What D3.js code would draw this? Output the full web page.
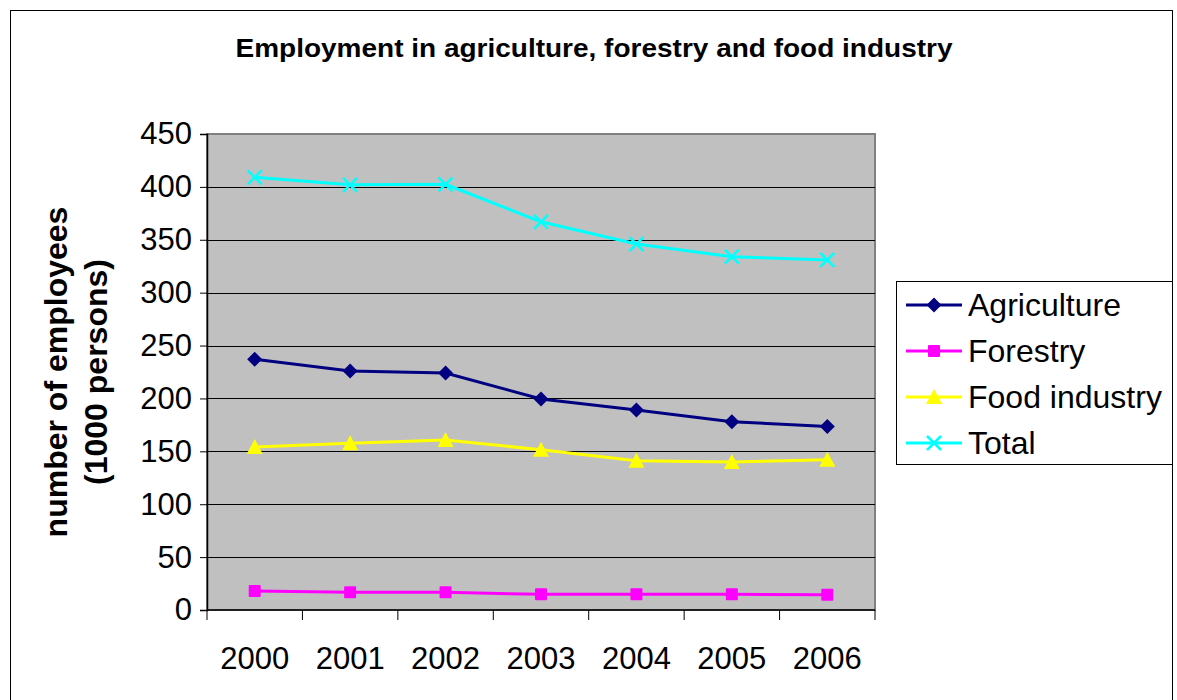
<!DOCTYPE html>
<html>
<head>
<meta charset="utf-8">
<script src="https://cdn.jsdelivr.net/npm/d3@7"></script>
<style>
  body { margin: 0; background: #fff; }
  text { font-family: "Liberation Sans", Arial, sans-serif; }
</style>
</head>
<body>
<div id="chart"></div>
<script>
const years = ["2000", "2001", "2002", "2003", "2004", "2005", "2006"];
const agriculture = [237, 226, 224, 199.5, 189, 178, 173.5];
const forestry = [18, 16.7, 16.7, 14.8, 14.8, 14.8, 14.5];
const foodIndustry = [154, 157.6, 160.7, 151.5, 141, 140, 142];
const total = [409, 402, 402.4, 367, 346, 334, 331];
const yTicks = [0, 50, 100, 150, 200, 250, 300, 350, 400, 450];

const series = [
  { name: "Agriculture", values: agriculture, color: "#000080", marker: "diamond" },
  { name: "Forestry", values: forestry, color: "#FF00FF", marker: "square" },
  { name: "Food industry", values: foodIndustry, color: "#FFFF00", marker: "triangle" },
  { name: "Total", values: total, color: "#00FFFF", marker: "x" }
];

const width = 1177, height = 700;
const margin = { top: 134, right: 302, bottom: 90, left: 207 };
const innerW = width - margin.left - margin.right;
const innerH = height - margin.top - margin.bottom;

const svg = d3.select("#chart").append("svg")
  .attr("width", width)
  .attr("height", height);

// outer chart border
svg.append("rect")
  .attr("x", 10.5).attr("y", 10.5)
  .attr("width", 1162).attr("height", 720)
  .attr("fill", "none").attr("stroke", "#000").attr("stroke-width", 1);

svg.append("text")
  .attr("x", 594).attr("y", 57)
  .attr("text-anchor", "middle")
  .attr("font-weight", "bold")
  .attr("font-size", 26)
  .attr("textLength", 717)
  .attr("lengthAdjust", "spacingAndGlyphs")
  .text("Employment in agriculture, forestry and food industry");

const chart = svg.append("g")
  .attr("transform", `translate(${margin.left},${margin.top})`);

const x = d3.scaleBand().domain(years).range([0, innerW]);
const y = d3.scaleLinear().domain([0, 450]).range([innerH, 0]);

// plot area
chart.append("rect")
  .attr("width", innerW).attr("height", innerH)
  .attr("fill", "#C0C0C0")
  .attr("stroke", "#808080").attr("stroke-width", 2);

// gridlines
chart.append("g")
  .selectAll("line")
  .data(yTicks.slice(1, -1))
  .join("line")
  .attr("x1", 0).attr("x2", innerW)
  .attr("y1", d => Math.round(y(d)) + 0.5)
  .attr("y2", d => Math.round(y(d)) + 0.5)
  .attr("stroke", "#000").attr("stroke-width", 1);

// y axis
const yAxis = chart.append("g")
  .call(d3.axisLeft(y).tickValues(yTicks).tickSize(7).tickPadding(8));
yAxis.select(".domain").attr("stroke", "#000").attr("stroke-width", 1.5);
yAxis.selectAll("text").attr("font-size", 31).attr("fill", "#000")
  .attr("font-family", "Liberation Sans, Arial, sans-serif");

// x axis with ticks at category boundaries
const xAxis = chart.append("g")
  .attr("transform", `translate(0,${innerH})`);
xAxis.append("line")
  .attr("x1", 0).attr("x2", innerW)
  .attr("stroke", "#000").attr("stroke-width", 1.5);
xAxis.selectAll(".tk")
  .data(years.concat(["end"]))
  .join("line")
  .attr("class", "tk")
  .attr("x1", (d, i) => i * x.bandwidth())
  .attr("x2", (d, i) => i * x.bandwidth())
  .attr("y1", 0).attr("y2", 10)
  .attr("stroke", "#000");
xAxis.selectAll("text")
  .data(years)
  .join("text")
  .attr("x", d => x(d) + x.bandwidth() / 2)
  .attr("y", 59)
  .attr("text-anchor", "middle")
  .attr("font-size", 31)
  .text(d => d);

// y axis title
const yTitle = svg.append("text")
  .attr("transform", "translate(67,372) rotate(-90)")
  .attr("text-anchor", "middle")
  .attr("font-weight", "bold")
  .attr("font-size", 32);
yTitle.append("tspan").attr("x", 0).attr("dy", 0).text("number of employees");
yTitle.append("tspan").attr("x", 0).attr("dy", 40).text("(1000 persons)");

function drawMarker(g, type, color) {
  if (type === "diamond") {
    g.append("path").attr("d", "M0,-7.5L7.5,0L0,7.5L-7.5,0Z").attr("fill", color);
  } else if (type === "square") {
    g.append("rect").attr("x", -6).attr("y", -6).attr("width", 12).attr("height", 12)
      .attr("rx", 1).attr("fill", color);
  } else if (type === "triangle") {
    g.append("path").attr("d", "M0,-8L8,7L-8,7Z").attr("fill", color);
  } else {
    g.append("path").attr("d", "M-7,-7L7,7M-7,7L7,-7")
      .attr("stroke", color).attr("stroke-width", 2.5).attr("fill", "none");
  }
}

const line = d3.line()
  .x((d, i) => x(years[i]) + x.bandwidth() / 2)
  .y(d => y(d));

series.forEach(s => {
  chart.append("path")
    .datum(s.values)
    .attr("d", line)
    .attr("fill", "none")
    .attr("stroke", s.color)
    .attr("stroke-width", 3);
  s.values.forEach((v, i) => {
    const g = chart.append("g")
      .attr("transform", `translate(${x(years[i]) + x.bandwidth() / 2},${y(v)})`);
    drawMarker(g, s.marker, s.color);
  });
});

// legend
const legend = svg.append("g").attr("transform", "translate(896,281)");
legend.append("rect")
  .attr("x", 0.5).attr("y", 0.5)
  .attr("width", 276).attr("height", 183)
  .attr("fill", "#fff").attr("stroke", "#000");

const items = legend.selectAll(".legend-item")
  .data(series)
  .join("g")
  .attr("class", "legend-item")
  .attr("transform", (d, i) => `translate(0,${24 + i * 46})`);
items.append("line")
  .attr("x1", 10).attr("x2", 66)
  .attr("stroke", d => d.color).attr("stroke-width", 3);
items.each(function (d) {
  const g = d3.select(this).append("g").attr("transform", "translate(38,0)");
  drawMarker(g, d.marker, d.color);
});
items.append("text")
  .attr("x", 72).attr("y", 11)
  .attr("font-size", 32)
  .text(d => d.name);
</script>
</body>
</html>
